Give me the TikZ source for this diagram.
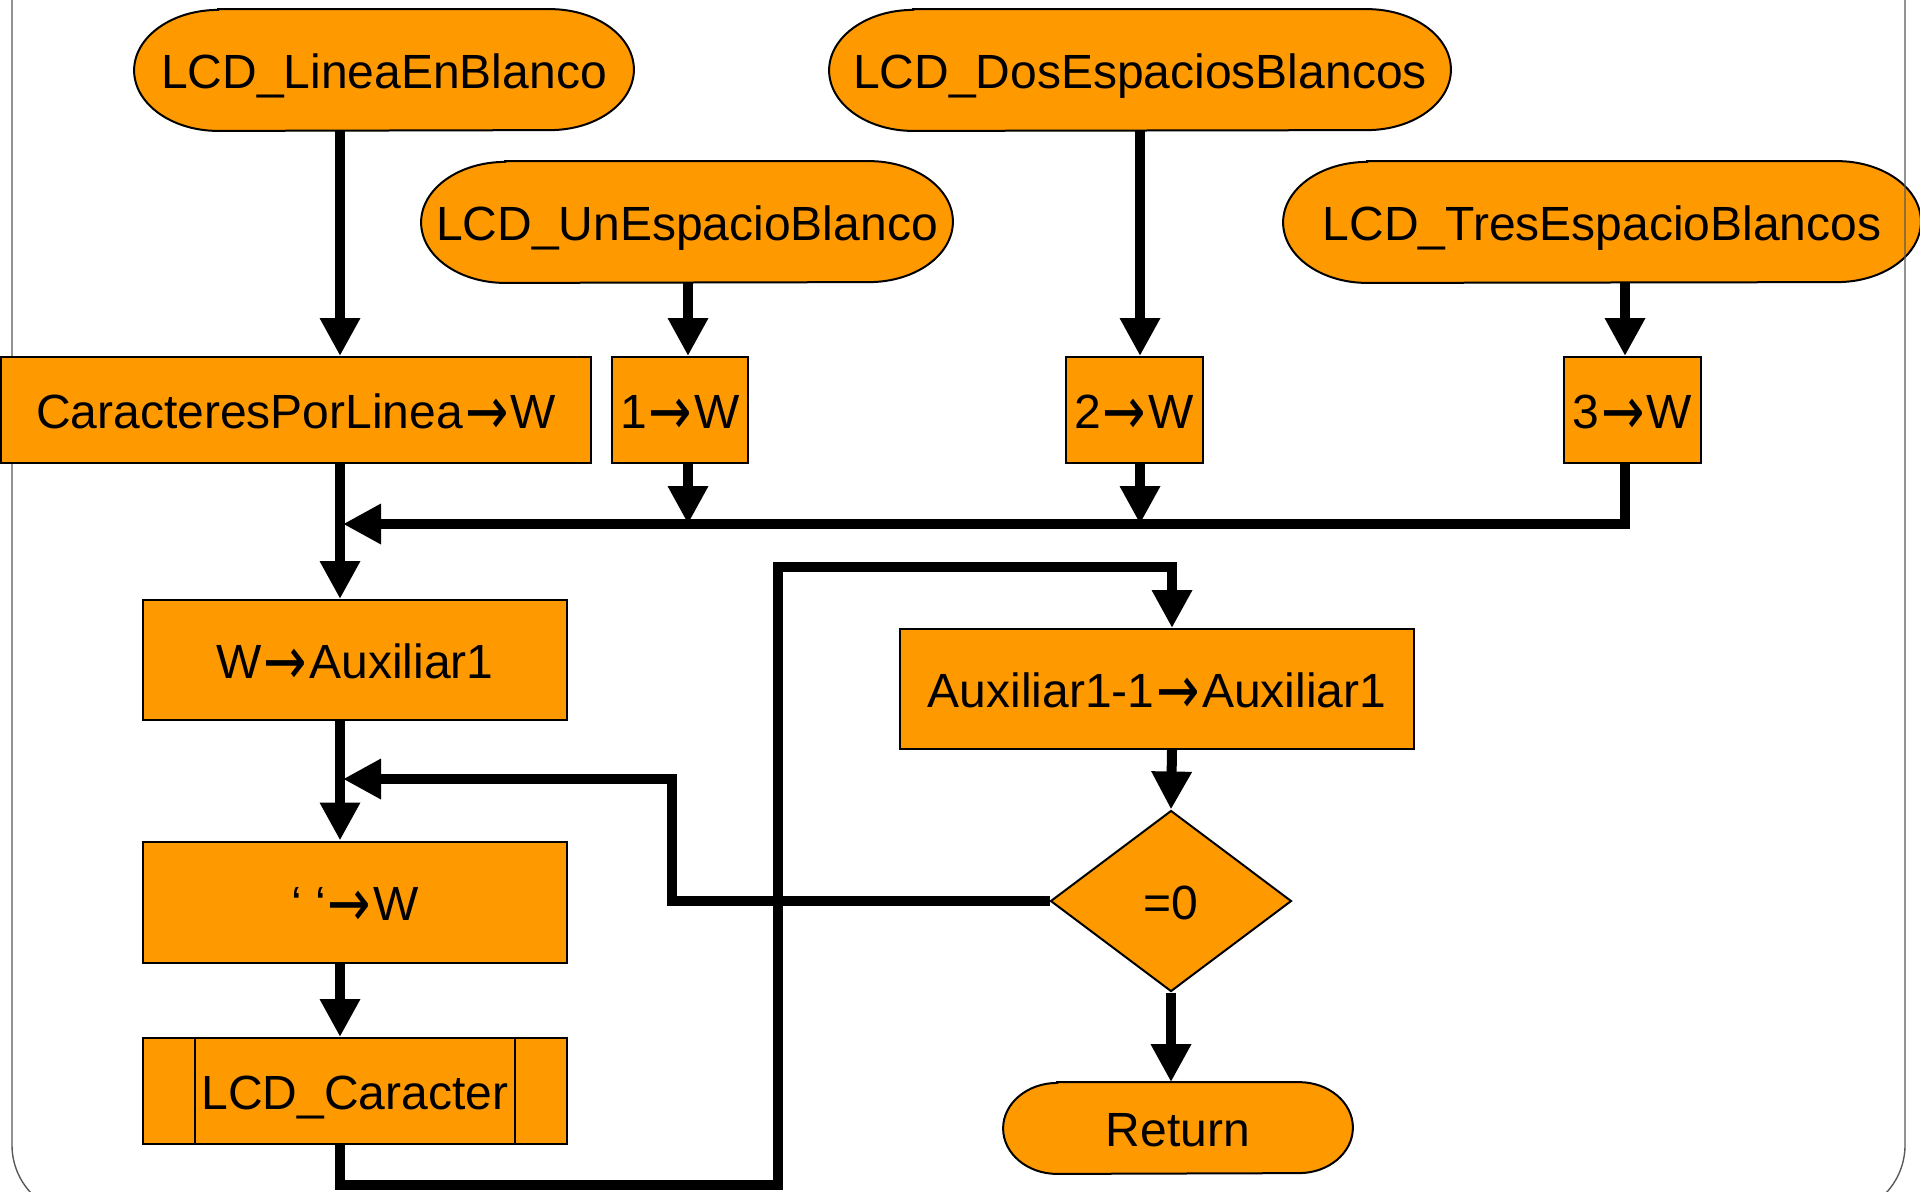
\documentclass[tikz,border=0pt]{standalone}
\usepackage{fontspec}
\usepackage{graphicx}
\setmainfont{Liberation Sans}
\newfontfamily\arrowfont{DejaVu Sans}
\newcommand{\flecha}{{\kern1pt\arrowfont\raisebox{-3pt}{\scalebox{1.08}[1.4]{→}}\kern1pt}}
\usepackage{tikz}
\usetikzlibrary{backgrounds,calc,shapes.geometric,arrows.meta}
\definecolor{flowOrange}{RGB}{255,153,0}

\begin{document}
\begin{tikzpicture}[x=0.5pt,y=-0.5pt,font=\fontsize{24}{28}\selectfont]
  \tikzstyle{terminal} = [minimum height=60.5pt,inner sep=0pt,text height=18.5pt,text depth=0pt]
  \tikzstyle{stadium} = [draw,fill=flowOrange,line width=1pt]
  \tikzstyle{process} = [draw,fill=flowOrange,line width=1pt,inner sep=0pt,minimum height=53pt,text height=18pt,text depth=0pt]
  \tikzstyle{decision} = [draw,fill=flowOrange,line width=1pt,shape=diamond,inner sep=0pt,minimum width=120.5pt,minimum height=90.5pt,text height=18pt,text depth=0pt]
  \tikzstyle{flow} = [line width=5pt,-{Triangle[width=19pt,length=19pt]}]
  %
  \useasboundingbox (0,0) rectangle (1920,1191);
  \clip (0,0) rectangle (1920,1191);
  % Frame.
  \draw[black!65,line width=0.7pt,rounded corners=35pt] (12,-100) rectangle (1905,1215);
  % Entry points.
  \node[terminal,minimum width=249.5pt] (linea) at (384,70) {LCD\_LineaEnBlanco};
  \node[terminal,minimum width=265.5pt] (unesp) at (687,222) {LCD\_UnEspacioBlanco};
  \node[terminal,minimum width=310.5pt] (dosesp) at (1140,70) {LCD\_DosEspaciosBlancos};
  \node[terminal,minimum width=318.5pt] (tresesp) at (1602,222) {LCD\_TresEspacioBlancos};
  % Assignments to W.
  \node[process,minimum width=295pt] (cpl) at (296,410) {CaracteresPorLinea\flecha W};
  \node[process,minimum width=68pt] (uno) at (680,410) {1\flecha W};
  \node[process,minimum width=68.5pt] (dos) at (1134,410) {2\flecha W};
  \node[process,minimum width=68.5pt] (tres) at (1632,410) {3\flecha W};
  % Left column.
  \node[process,minimum width=212pt,minimum height=60pt] (waux) at (355,660) {W\flecha Auxiliar1};
  \node[process,minimum width=212pt,minimum height=60.5pt] (blank) at (355,902) {‘ ‘\flecha W};
  \node[process,minimum width=212pt] (lcdc) at (355,1091) {LCD\_Caracter};
  % Right column.
  \node[process,minimum width=257pt,minimum height=60pt] (dec) at (1157,689) {Auxiliar1-1\flecha Auxiliar1};
  \node[decision] (cero) at (1171,901) {=0};
  \node[terminal,minimum width=174.5pt,minimum height=45.5pt] (ret) at (1178,1128) {Return};
  % Bend points.
  \coordinate (colA) at (340,0);
  \coordinate (colB) at (688,0);
  \coordinate (colC) at (1140,0);
  \coordinate (colD) at (1625,0);
  \coordinate (colE) at (1172,0);
  \coordinate (merge) at (343,524);
  \coordinate (loop) at (343,779);
  \coordinate (back) at (672,779);
  \coordinate (low) at (778,1185);
  \coordinate (high) at (778,567);
  \begin{pgfonlayer}{background}
      % Draw terminal outlines.
      \foreach \n/\rx/\ry in {linea/42pt/30.25pt,unesp/42pt/30.25pt,dosesp/42pt/30.25pt,tresesp/42pt/30.25pt,ret/27pt/22.75pt}
        \draw[stadium] ([xshift=\rx]\n.north west) -- ([xshift=-\rx]\n.north east)
          arc[start angle=90,end angle=-90,x radius=\rx,y radius=\ry]
          -- ([xshift=\rx]\n.south west)
          arc[start angle=270,end angle=90,x radius=\rx,y radius=\ry] -- cycle;
  \end{pgfonlayer}
  % Subroutine bars.
  \draw[line width=1pt] ([xshift=26.5pt]lcdc.north west) -- ([xshift=26.5pt]lcdc.south west)
    ([xshift=-26.5pt]lcdc.north east) -- ([xshift=-26.5pt]lcdc.south east);
  % Draw lines.
  \draw[flow] (linea.south -| colA) -- (cpl.north -| colA);
  \draw[flow] (unesp.south -| colB) -- (uno.north -| colB);
  \draw[flow] (dosesp.south -| colC) -- (dos.north -| colC);
  \draw[flow] (tresesp.south -| colD) -- (tres.north -| colD);
  \draw[flow] (uno.south -| colB) -- (merge -| colB);
  \draw[flow] (dos.south -| colC) -- (merge -| colC);
  \draw[flow] (tres.south -| colD) |- (merge);
  \draw[flow] (cpl.south -| colA) -- (waux.north -| colA);
  \draw[flow] (waux.south -| colA) -- (blank.north -| colA);
  \draw[flow] (blank.south -| colA) -- (lcdc.north -| colA);
  \draw[flow] (lcdc.south -| colA) |- (low) -- (high) -| (dec.north -| colE);
  \draw[flow] (dec.south -| colE) -- (cero.north);
  \draw[flow] (cero.west) -| (back) -- (loop);
  \draw[flow] (cero.south) -- (ret.north -| cero.south);
\end{tikzpicture}
\end{document}
